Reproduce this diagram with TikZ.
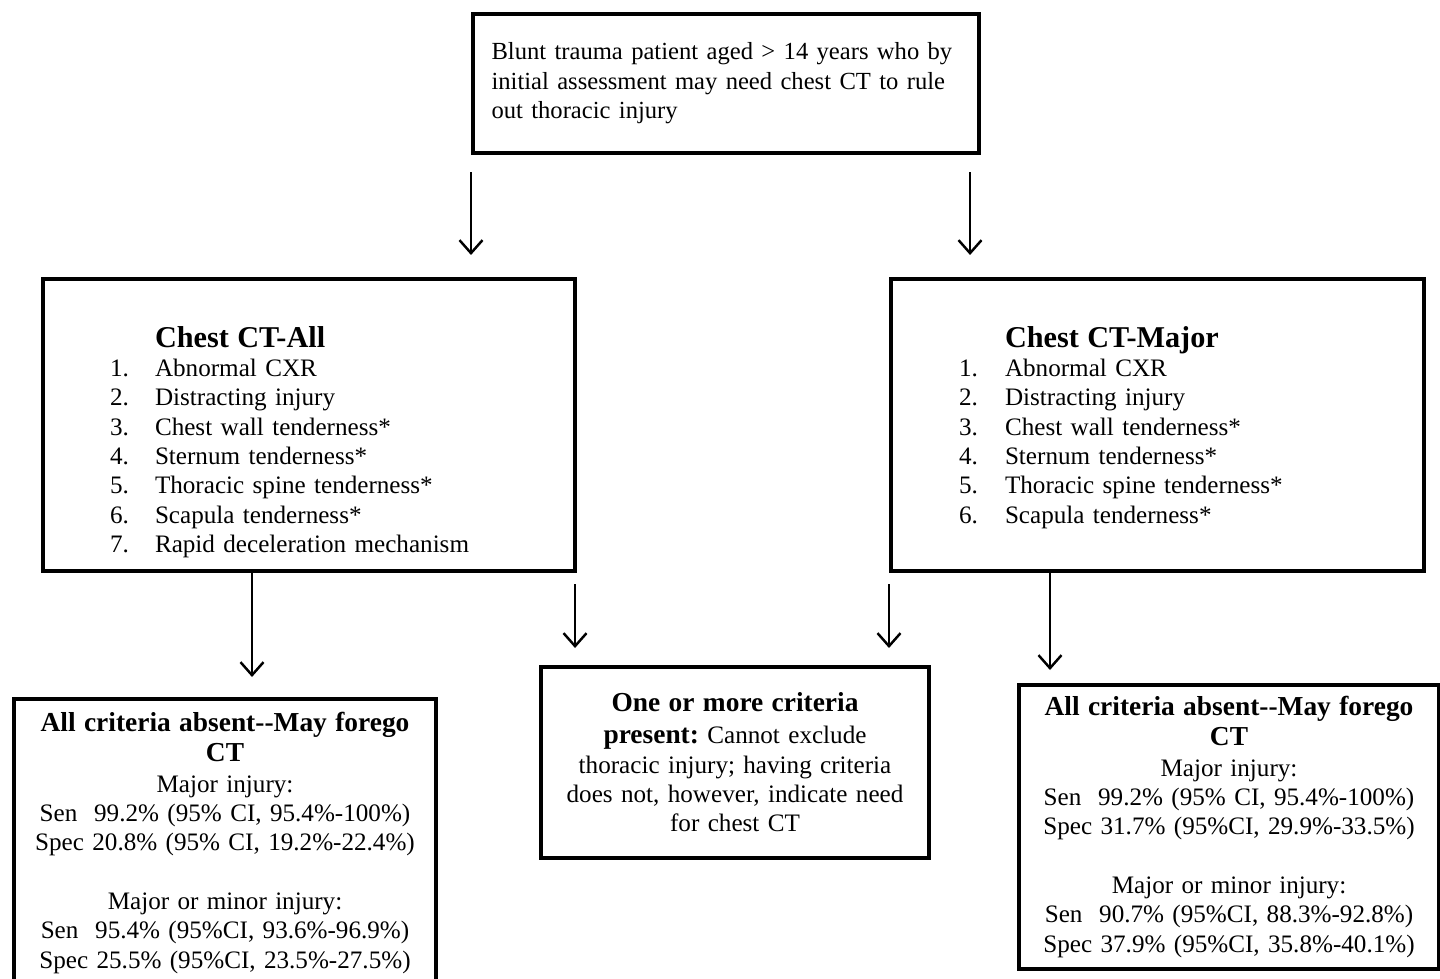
\documentclass[tikz,border=0pt]{standalone}
\usepackage{fontspec}
\setmainfont{Liberation Serif}
\usetikzlibrary{arrows.meta,positioning,calc}

\newcommand{\bodysize}{\fontsize{14.3}{16.7}\selectfont\frenchspacing}
\newcommand{\headsize}{\fontsize{15.6}{17.6}\selectfont\bfseries}
\newcommand{\titlesize}{\fontsize{17.2}{19}\selectfont\bfseries}

\begin{document}
\begin{tikzpicture}[
  box/.style={draw, line width=2.3pt, anchor=north west, font=\bodysize},
  arr/.style={line width=1.4pt, -{Straight Barb[length=0.26cm,width=0.46cm,line width=1.4pt]}}
]
\useasboundingbox (0,0) rectangle (28.8,-19.58);

\node[box, minimum width=10.12cm, minimum height=2.78cm, text width=9.38cm, inner xsep=0.37cm, align=left] (start) at (9.42,-0.24) {\fontsize{14}{16.9}\selectfont Blunt trauma patient aged > 14 years who by\\ initial assessment may need chest CT to rule\\ out thoracic injury};

\node[box, minimum width=10.64cm, minimum height=5.84cm, text width=7.96cm, inner xsep=1.34cm, align=left] (ctall) at (0.82,-5.54) {\begin{tabular}{@{}p{0.9cm}@{}l@{}}
\multicolumn{2}{l}{}\\[4.5pt]
 & \titlesize Chest CT-All\\
1. & Abnormal CXR\\
2. & Distracting injury\\
3. & Chest wall tenderness*\\
4. & Sternum tenderness*\\
5. & Thoracic spine tenderness*\\
6. & Scapula tenderness*\\
7. & Rapid deceleration mechanism
\end{tabular}};

\node[box, minimum width=10.66cm, minimum height=5.84cm, text width=7.94cm, inner xsep=1.36cm, align=left] (ctmaj) at (17.78,-5.54) {\begin{tabular}{@{}p{0.92cm}@{}l@{}}
\multicolumn{2}{l}{}\\[-12.2pt]
 & \titlesize Chest CT-Major\\
1. & Abnormal CXR\\
2. & Distracting injury\\
3. & Chest wall tenderness*\\
4. & Sternum tenderness*\\
5. & Thoracic spine tenderness*\\
6. & Scapula tenderness*
\end{tabular}};

\node[box, minimum width=8.44cm, minimum height=5.76cm, text width=8cm, align=center] (absall) at (0.24,-13.94) {{\headsize All criteria absent-{}-May forego\\ CT}\\[0.8pt] Major injury:\\ Sen\ \ 99.2\% (95\% CI, 95.4\%-100\%)\\ Spec 20.8\% (95\% CI, 19.2\%-22.4\%)\\[16.7pt] Major or minor injury:\\ Sen\ \ 95.4\% (95\%CI, 93.6\%-96.9\%)\\ Spec 25.5\% (95\%CI, 23.5\%-27.5\%)};

\node[box, minimum width=7.76cm, minimum height=3.82cm, text width=7.4cm, align=center] (present) at (10.78,-13.30) {{\headsize One or more criteria\\[1.5pt] present:} Cannot exclude\\ thoracic injury; having criteria\\ does not, however, indicate need\\ for chest CT};

\node[box, minimum width=8.40cm, minimum height=5.68cm, text width=8cm, align=center] (absmaj) at (20.34,-13.66) {{\headsize All criteria absent-{}-May forego\\ CT}\\[0.8pt] Major injury:\\ Sen\ \ 99.2\% (95\% CI, 95.4\%-100\%)\\ Spec 31.7\% (95\%CI, 29.9\%-33.5\%)\\[16.7pt] Major or minor injury:\\ Sen\ \ 90.7\% (95\%CI, 88.3\%-92.8\%)\\ Spec 37.9\% (95\%CI, 35.8\%-40.1\%)};

\draw[arr, shorten <=0.34cm, shorten >=0.44cm] (start.south west) -- (start.south west |- ctall.north);
\draw[arr, shorten <=0.34cm, shorten >=0.44cm] ([xshift=-0.22cm]start.south east) -- ([xshift=-0.22cm]start.south east |- ctmaj.north);
\draw[arr, shorten >=0.4cm] ([xshift=4.22cm]ctall.south west) -- ([xshift=4.22cm]ctall.south west |- absall.north);
\draw[arr, shorten <=0.22cm, shorten >=0.34cm] ([xshift=-0.04cm]ctall.south east) -- ([xshift=-0.04cm]ctall.south east |- present.north);
\draw[arr, shorten <=0.22cm, shorten >=0.34cm] (ctmaj.south west) -- (ctmaj.south west |- present.north);
\draw[arr, shorten >=0.26cm] ([xshift=3.22cm]ctmaj.south west) -- ([xshift=3.22cm]ctmaj.south west |- absmaj.north);
\end{tikzpicture}
\end{document}
